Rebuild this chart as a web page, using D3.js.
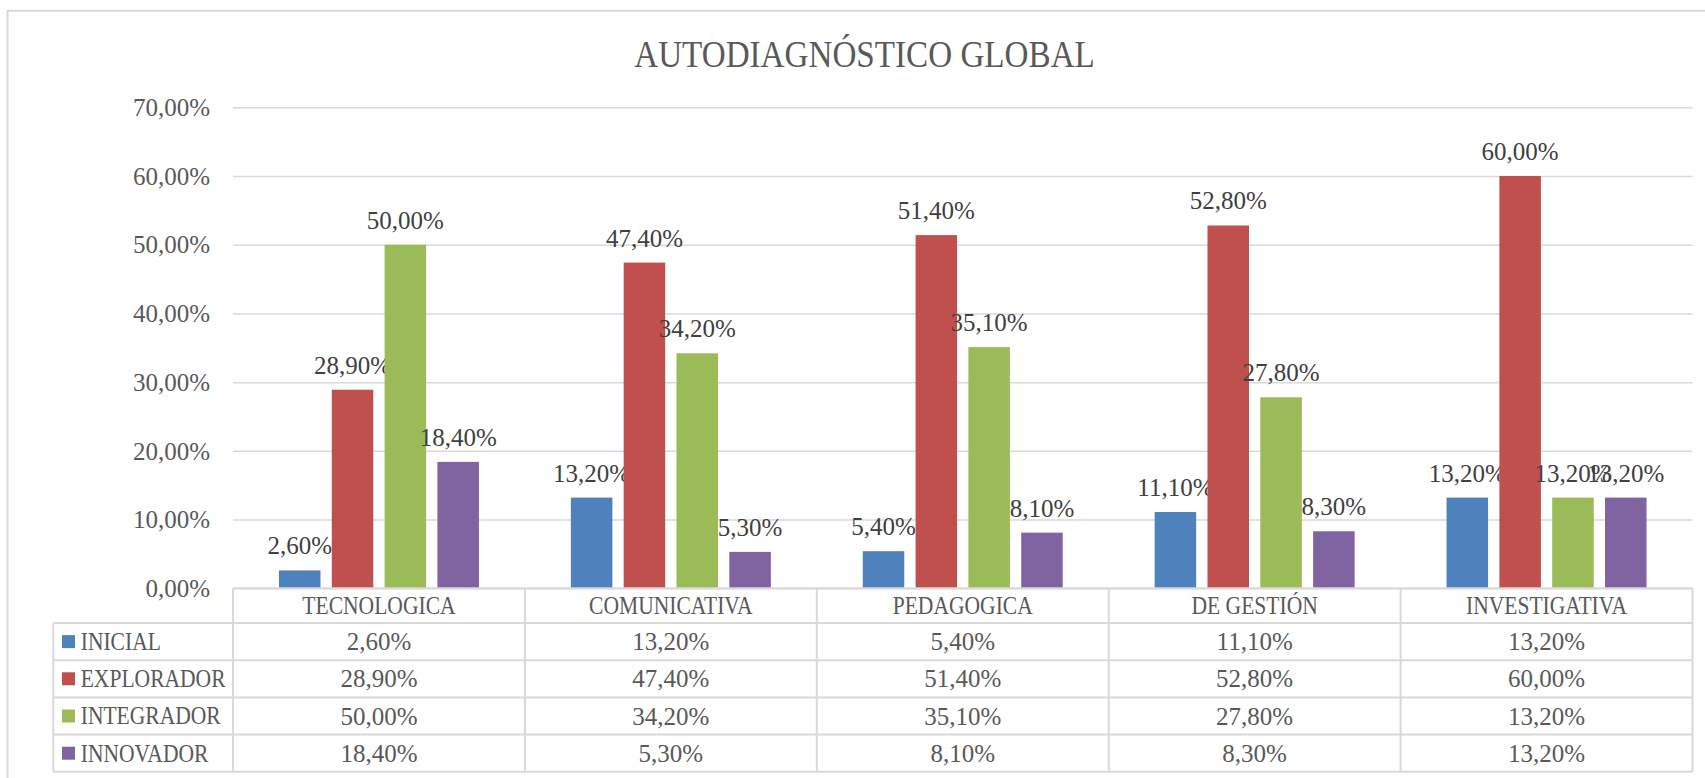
<!DOCTYPE html>
<html>
<head>
<meta charset="utf-8">
<title>AUTODIAGNÓSTICO GLOBAL</title>
<script src="https://cdn.jsdelivr.net/npm/d3@7"></script>
<style>
  html, body { margin: 0; padding: 0; background: #fff; overflow: hidden; }
  svg { display: block; font-family: "Liberation Serif", "DejaVu Serif", serif; }
</style>
</head>
<body>
<div id="chart"></div>
<script>
'use strict';

// data
var categories = ['TECNOLOGICA', 'COMUNICATIVA', 'PEDAGOGICA', 'DE GESTIÓN', 'INVESTIGATIVA'];
var seriesNames = ['INICIAL', 'EXPLORADOR', 'INTEGRADOR', 'INNOVADOR'];
var inicial = [0.026, 0.132, 0.054, 0.111, 0.132];
var explorador = [0.289, 0.474, 0.514, 0.528, 0.600];
var integrador = [0.500, 0.342, 0.351, 0.278, 0.132];
var innovador = [0.184, 0.053, 0.081, 0.083, 0.132];
var seriesColors = ['#4f81bd', '#c0504d', '#9bbb59', '#8064a2'];
var yTicks = [0, 0.1, 0.2, 0.3, 0.4, 0.5, 0.6, 0.7];
var chartTitle = 'AUTODIAGNÓSTICO GLOBAL';

var series = [inicial, explorador, integrador, innovador].map(function(values, i) {
    return { name: seriesNames[i], color: seriesColors[i], values: values };
});

var W = 1705, H = 778;
var plot = { left: 233, right: 1692.5, top: 107.3, bottom: 588.3 };
var table = { left: 53.3, headerBottom: 623, rowH: 37.2 };
var gridColor = '#d9d9d9';

// spanish number style: 2,60%
var locale = d3.formatLocale({ decimal: ',', thousands: '.', grouping: [3], currency: ['', '€'] });
var pct = locale.format('.2%');

var svg = d3.select('#chart')
    .append('svg')
    .attr('width', W)
    .attr('height', H);

// the caption font of the original is narrower than Liberation Serif
function placeText(sel, x, y, sx) {
    return sel.attr('transform', 'translate(' + x + ',' + y + ') scale(' + (sx || 1) + ',1)');
}

// chart area border (only top and left are in view)
svg.append('path')
    .attr('d', 'M7.5,' + H + 'V10.7H' + W)
    .attr('fill', 'none')
    .attr('stroke', gridColor)
    .attr('stroke-width', 2);

placeText(svg.append('text'), 864.5, 67, 0.85)
    .attr('text-anchor', 'middle')
    .attr('font-size', 39)
    .attr('fill', '#595959')
    .text(chartTitle);

var x0 = d3.scaleBand()
    .domain(categories)
    .range([plot.left, plot.right])
    .padding(0);

var x1 = d3.scaleBand()
    .domain(seriesNames)
    .range([0, x0.bandwidth()])
    .paddingInner(0.214)
    .paddingOuter(0.87);

var y = d3.scaleLinear()
    .domain([0, 0.7])
    .range([plot.bottom, plot.top]);

var yAxis = d3.axisLeft(y)
    .tickValues(yTicks)
    .tickFormat(pct)
    .tickSizeInner(-(plot.right - plot.left))
    .tickSizeOuter(0)
    .tickPadding(23);

var gy = svg.append('g')
    .attr('transform', 'translate(' + plot.left + ',0)')
    .call(yAxis);
gy.select('.domain').remove();
gy.selectAll('.tick line')
    .attr('stroke', gridColor)
    .attr('stroke-width', 1.5);
gy.selectAll('.tick text')
    .attr('fill', '#595959')
    .attr('font-size', 25)
    .attr('font-family', '"Liberation Serif", serif')
    .attr('dy', '0.33em');

// bars
var groups = svg.append('g')
    .selectAll('g')
    .data(series)
    .enter()
    .append('g')
    .attr('fill', function(d) { return d.color; });

groups.selectAll('rect')
    .data(function(s) {
        return s.values.map(function(v, i) { return { cat: categories[i], name: s.name, v: v }; });
    })
    .enter()
    .append('rect')
    .attr('x', function(d) { return x0(d.cat) + x1(d.name); })
    .attr('width', x1.bandwidth())
    .attr('y', function(d) { return y(d.v); })
    .attr('height', function(d) { return y(0) - y(d.v); });

// value labels
groups.selectAll('text')
    .data(function(s) {
        return s.values.map(function(v, i) { return { cat: categories[i], name: s.name, v: v }; });
    })
    .enter()
    .append('text')
    .attr('x', function(d) { return x0(d.cat) + x1(d.name) + x1.bandwidth() / 2; })
    .attr('y', function(d) { return y(d.v) - 16; })
    .attr('text-anchor', 'middle')
    .attr('font-size', 25)
    .attr('fill', '#404040')
    .text(function(d) { return pct(d.v); });

// data table under the axis
var rowY = function(i) { return table.headerBottom + i * table.rowH; };
var tableBottom = rowY(series.length);
var tbl = svg.append('g')
    .attr('stroke', gridColor)
    .attr('stroke-width', 2)
    .attr('fill', 'none');

tbl.append('line')
    .attr('x1', plot.left).attr('x2', plot.right)
    .attr('y1', plot.bottom).attr('y2', plot.bottom);

tbl.selectAll('line.row')
    .data(d3.range(series.length + 1))
    .enter()
    .append('line')
    .attr('class', 'row')
    .attr('x1', table.left).attr('x2', plot.right)
    .attr('y1', rowY).attr('y2', rowY);

tbl.append('line')
    .attr('x1', table.left).attr('x2', table.left)
    .attr('y1', table.headerBottom).attr('y2', tableBottom);

tbl.selectAll('line.col')
    .data(categories.map(function(c) { return x0(c); }).concat([plot.right]))
    .enter()
    .append('line')
    .attr('class', 'col')
    .attr('x1', function(d) { return d; }).attr('x2', function(d) { return d; })
    .attr('y1', plot.bottom).attr('y2', tableBottom);

// header: category names
svg.append('g')
    .selectAll('text')
    .data(categories)
    .enter()
    .append('text')
    .each(function(c) {
        placeText(d3.select(this), x0(c) + x0.bandwidth() / 2, (plot.bottom + table.headerBottom) / 2, 0.88);
    })
    .attr('text-anchor', 'middle')
    .attr('dy', '0.34em')
    .attr('font-size', 24.5)
    .attr('fill', '#595959')
    .text(function(c) { return c; });

// legend keys and row labels
var legendRows = svg.append('g')
    .selectAll('g')
    .data(series)
    .enter()
    .append('g')
    .attr('transform', function(d, i) { return 'translate(0,' + (rowY(i) + table.rowH / 2) + ')'; });

legendRows.append('rect')
    .attr('x', 62)
    .attr('y', -6.5)
    .attr('width', 13)
    .attr('height', 13)
    .attr('fill', function(d) { return d.color; });

legendRows.append('text')
    .each(function() { placeText(d3.select(this), 80.7, 0, 0.88); })
    .attr('dy', '0.34em')
    .attr('font-size', 24.5)
    .attr('fill', '#595959')
    .text(function(d) { return d.name; });

legendRows.selectAll('text.val')
    .data(function(s) { return s.values.map(function(v, i) { return { cat: categories[i], v: v }; }); })
    .enter()
    .append('text')
    .attr('class', 'val')
    .attr('x', function(d) { return x0(d.cat) + x0.bandwidth() / 2; })
    .attr('dy', '0.34em')
    .attr('text-anchor', 'middle')
    .attr('font-size', 25)
    .attr('fill', '#595959')
    .text(function(d) { return pct(d.v); });
</script>
</body>
</html>
